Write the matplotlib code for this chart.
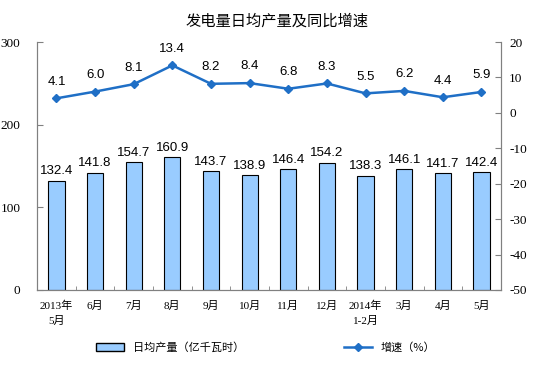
import numpy as np
import matplotlib.pyplot as plt
from matplotlib.lines import Line2D
from matplotlib.patches import Patch

plt.rcParams['font.family'] = ['Liberation Sans', 'Noto Sans CJK SC', 'DejaVu Sans']
plt.rcParams['axes.unicode_minus'] = False

months = ["2013年\n5月", "6月", "7月", "8月", "9月", "10月", "11月", "12月",
          "2014年\n1-2月", "3月", "4月", "5月"]
output = [132.4, 141.8, 154.7, 160.9, 143.7, 138.9, 146.4, 154.2, 138.3, 146.1, 141.7, 142.4]
growth = [4.1, 6.0, 8.1, 13.4, 8.2, 8.4, 6.8, 8.3, 5.5, 6.2, 4.4, 5.9]

x = np.arange(len(months))
fig = plt.figure(figsize=(5.54, 3.82), dpi=100)
ax = fig.add_axes([0.067, 0.241, 0.837, 0.649])
ax2 = ax.twinx()

ax.bar(x, output, width=0.42, color="#99CCFF", edgecolor="black", linewidth=0.8, zorder=2)
for xi, v in zip(x, output):
    ax.text(xi, v + 4, f"{v:.1f}", ha="center", va="bottom", fontsize=9.5)

ax2.plot(x, growth, color="#1F6FC6", lw=1.8, marker="D", ms=4, zorder=3)
for xi, v in zip(x, growth):
    ax2.text(xi, v + 3, f"{v:.1f}", ha="center", va="bottom", fontsize=9.5)

ax.set_xlim(-0.5, len(months) - 0.5)
ax.set_ylim(0, 300)
ax.set_yticks([0, 100, 200, 300])
ax2.set_ylim(-50, 20)
ax2.set_yticks(range(-50, 21, 10))

ax.set_xticks(x)
ax.set_xticklabels(months, fontsize=8, family=['Liberation Serif', 'Noto Sans CJK SC'],
                   linespacing=1.5)
ax.set_xticks(np.arange(-0.5, len(months)), minor=True)
ax.tick_params(axis="x", which="major", length=0, pad=8)
ax.tick_params(axis="x", which="minor", direction="in", length=3, color="#808080")
ax.tick_params(axis="y", direction="in", length=4, color="#808080", pad=12)
ax2.tick_params(axis="y", direction="in", length=4, color="#808080", pad=6)
for lab in ax.get_yticklabels() + ax2.get_yticklabels():
    lab.set_family('Liberation Serif')
    lab.set_fontsize(9.5)
for a in (ax, ax2):
    a.spines["top"].set_visible(False)
    for s in a.spines.values():
        s.set_color("#808080")

fig.text(0.5, 0.945, "发电量日均产量及同比增速", ha="center", va="center",
         fontsize=11, family=['Noto Sans CJK SC'])

handles = [Patch(facecolor="#99CCFF", edgecolor="black", label="日均产量（亿千瓦时）"),
           Line2D([0], [0], color="#1F6FC6", lw=1.8, marker="D", ms=4, label="增速（%）")]
fig.legend(handles=handles, loc="center", bbox_to_anchor=(0.48, 0.09), ncol=2,
           frameon=False, columnspacing=9, handlelength=2.5,
           prop={'family': ['Noto Sans CJK SC'], 'size': 8})

fig.savefig("out.png", dpi=100)
